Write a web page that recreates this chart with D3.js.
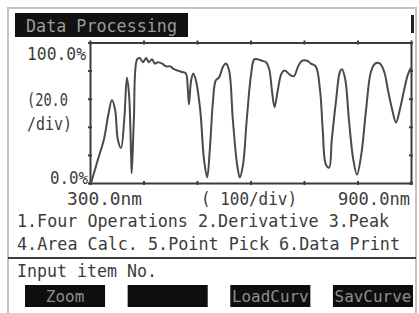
<!DOCTYPE html>
<html>
<head>
<meta charset="utf-8">
<script src="https://cdn.jsdelivr.net/npm/d3@7"></script>
<style>
  body { margin: 0; background: #fff; }
  svg text { font-family: "DejaVu Sans Mono", "Liberation Mono", monospace; }
</style>
</head>
<body>
<svg id="screen" width="419" height="313"></svg>
<script>
// wavelength (nm) and transmittance (%)
var wavelength = [302, 315, 326, 334, 341, 347, 352, 358, 364, 369, 373, 377, 378, 382, 388,
  393, 399, 405, 410, 416, 421, 427, 435, 442, 450, 457, 464, 472, 479, 483, 485, 489, 493,
  498, 506, 513, 519, 524, 530, 535, 541, 549, 554, 560, 567, 575, 580, 586, 593, 601, 607,
  614, 621, 629, 635, 640, 645, 651, 658, 664, 674, 681, 689, 696, 706, 713, 722, 730, 735,
  741, 747, 752, 760, 767, 771, 777, 784, 792, 799, 807, 816, 825, 833, 842, 850, 857, 865,
  872, 879, 887, 894, 900];
var transmit = [0, 17, 31, 48, 59, 52, 31, 25, 45, 75, 63, 17, 7, 45, 88,
  89, 86, 89, 86, 88, 85, 86, 85, 83, 83, 81, 80, 79, 78, 66, 56, 73, 78,
  73, 52, 17, 4, 24, 59, 73, 75, 83, 85, 80, 45, 13, 4, 13, 45, 77, 88,
  88, 87, 86, 81, 66, 54, 66, 78, 80, 77, 76, 83, 87, 87, 85, 83, 66, 38,
  13, 11, 31, 59, 79, 81, 74, 45, 17, 6, 20, 52, 79, 85, 85, 79, 66, 52,
  43, 52, 66, 77, 82];

var xTicks = [300, 400, 500, 600, 700, 800, 900];
var yTicks = [0, 20, 40, 60, 80, 100];
var menuLines = ["1.Four Operations 2.Derivative 3.Peak", "4.Area Calc. 5.Point Pick 6.Data Print"];
var buttons = ["Zoom", "", "LoadCurv", "SavCurve"];

var svg = d3.select("#screen");
var ink = "#3c3c3c";

// outer lcd frame
svg.append("rect").attr("x", 8).attr("y", 8).attr("width", 408).attr("height", 312)
  .attr("fill", "none").attr("stroke", "#c4c4c4").attr("stroke-width", 2);

// title bar
svg.append("rect").attr("x", 15).attr("y", 13).attr("width", 173).attr("height", 24).attr("fill", "#111");
svg.append("text").attr("x", 26).attr("y", 32).attr("font-size", 18).attr("fill", "#9a9a9a")
  .attr("textLength", 151).attr("lengthAdjust", "spacingAndGlyphs").text("Data Processing");
svg.append("rect").attr("x", 411).attr("y", 15).attr("width", 3).attr("height", 18).attr("fill", "#222");

var x = d3.scaleLinear().domain([300, 900]).range([90, 411]);
var y = d3.scaleLinear().domain([0, 100]).range([183, 42.5]);

function tickAxis(axis, tx, ty) {
  var g = svg.append("g").attr("transform", "translate(" + tx + "," + ty + ")").call(axis);
  g.select(".domain").attr("stroke", ink).attr("stroke-width", 2);
  g.selectAll(".tick text").remove();
  g.selectAll(".tick line").attr("stroke", ink).attr("stroke-width", 2);
  return g;
}
var gb = tickAxis(d3.axisBottom(x).tickValues(xTicks).tickSize(0), 0, 183);
gb.selectAll(".tick line").attr("y1", -2).attr("y2", 2);
var gt = tickAxis(d3.axisTop(x).tickValues(xTicks).tickSize(0), 0, 42.5);
gt.selectAll(".tick line").attr("y1", -2).attr("y2", 2);
var gl = tickAxis(d3.axisLeft(y).tickValues(yTicks).tickSize(0), 90, 0);
gl.selectAll(".tick line").attr("x1", -2).attr("x2", 2);
var gr = tickAxis(d3.axisRight(y).tickValues(yTicks).tickSize(0), 411, 0);
gr.selectAll(".tick line").attr("x1", -2).attr("x2", 2);

var line = d3.line()
  .curve(d3.curveCatmullRom.alpha(0.5))
  .x(function(d, i) { return x(wavelength[i]); })
  .y(function(d) { return y(d); });

svg.append("path").attr("d", line(transmit))
  .attr("fill", "none").attr("stroke", "#4a4a4a").attr("stroke-width", 2)
  .attr("stroke-linejoin", "round");

function label(str, tx, ty, len, anchor) {
  var t = svg.append("text").attr("x", tx).attr("y", ty).attr("font-size", 17)
    .attr("fill", ink).text(str);
  if (len) t.attr("textLength", len).attr("lengthAdjust", "spacingAndGlyphs");
  if (anchor) t.attr("text-anchor", anchor);
  return t;
}

label("100.0%", 27, 60, 59);
label("(20.0", 27, 106, 41);
label("/div)", 27, 130, 45);
label("0.0%", 50, 184, 38);
label("300.0nm", 67, 205, 75);
label("( 100/div)", 201, 205, 96);
label("900.0nm", 338, 205, 72);

label(menuLines[0], 17, 227, 372);
label(menuLines[1], 17, 250, 383);

svg.append("line").attr("x1", 8).attr("x2", 416).attr("y1", 258).attr("y2", 258)
  .attr("stroke", ink).attr("stroke-width", 2);

label("Input item No.", 17, 277, 140);

var bx = d3.scaleBand().domain(d3.range(buttons.length)).range([25, 413]).paddingInner(0.22);
var bg = svg.selectAll(".btn").data(buttons).enter().append("g").attr("class", "btn");
bg.append("rect").attr("x", function(d, i) { return bx(i); }).attr("y", 285)
  .attr("width", bx.bandwidth()).attr("height", 22).attr("fill", "#0e0e0e");
bg.append("text").attr("x", function(d, i) { return bx(i) + bx.bandwidth() / 2; })
  .attr("y", 302).attr("text-anchor", "middle").attr("font-size", 16).attr("fill", "#8e8e8e")
  .attr("textLength", function(d) { return d.length * 9.6; })
  .attr("lengthAdjust", "spacingAndGlyphs")
  .text(function(d) { return d; });
</script>
</body>
</html>
